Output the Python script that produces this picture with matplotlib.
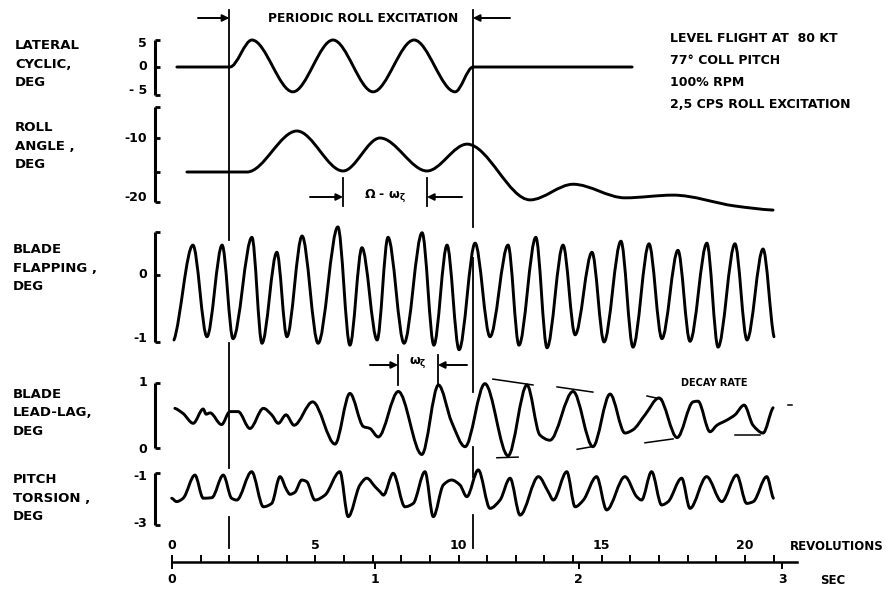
import numpy as np
import matplotlib
matplotlib.use("Agg")
import matplotlib.pyplot as plt
from matplotlib.path import Path
from matplotlib.patches import PathPatch
from matplotlib.ticker import FixedLocator, FuncFormatter

# ---------------- data (x in rotor revolutions) ----------------
REV_PER_SEC = 7.1
EXC_START, EXC_END = 2.0, 10.5

lat_rev = [0.17, 2.02, 2.79, 4.22, 5.62, 7.02, 8.45, 9.88, 10.51, 16.06]
lat_deg = [0.0, 0.0, 5.0, -4.6, 5.0, -4.6, 5.0, -4.6, 0.0, 0.0]

roll_rev = [0.52, 2.62, 4.36, 5.97, 7.26, 8.90, 10.30, 12.50, 14.00, 15.81, 17.49, 19.65, 20.98]
roll_deg = [-15.0, -15.0, -8.97, -14.85, -10.0, -14.85, -10.9, -19.1, -16.8, -18.8, -18.4, -20.0, -20.6]

flap_rev = [0.07, 0.73, 1.22, 1.75, 2.13, 2.79, 3.14, 3.66, 4.01, 4.54,
            5.10, 5.79, 6.21, 6.63, 7.16, 7.54, 8.10, 8.73, 9.14, 9.60,
            10.02, 10.58, 11.10, 11.73, 12.11, 12.70, 13.09, 13.65, 14.07, 14.66,
            15.08, 15.67, 16.09, 16.65, 17.10, 17.66, 18.08, 18.67, 19.06, 19.65,
            20.07, 20.63, 21.01]
flap_deg = [-1.0, 0.46, -0.95, 0.46, -0.98, 0.58, -1.05, 0.35, -0.95, 0.60,
            -1.05, 0.74, -1.08, 0.42, -1.0, 0.58, -1.05, 0.65, -1.08, 0.46,
            -1.15, 0.49, -0.95, 0.46, -1.08, 0.58, -1.12, 0.46, -0.92, 0.35,
            -1.03, 0.52, -1.11, 0.48, -0.98, 0.38, -1.02, 0.49, -1.11, 0.48,
            -1.0, 0.40, -0.95]

lag_rev = [0.10, 0.39, 0.74, 1.09, 1.19, 1.33, 1.73, 2.02, 2.31, 2.72,
           3.19, 3.48, 3.71, 3.98, 4.26, 4.91, 5.69, 6.21, 6.68, 6.91,
           7.20, 7.90, 8.72, 9.30, 9.76, 10.23, 10.92, 11.73, 12.39, 12.84,
           13.19, 14.00, 14.69, 15.29, 15.81, 16.09, 16.51, 17.00, 17.63, 18.19,
           18.36, 18.78, 19.02, 19.37, 19.65, 19.97, 20.28, 20.63, 20.98]
lag_deg = [0.61, 0.53, 0.38, 0.60, 0.52, 0.54, 0.36, 0.56, 0.56, 0.30,
           0.61, 0.51, 0.38, 0.51, 0.35, 0.71, 0.06, 0.84, 0.33, 0.30,
           0.17, 0.87, -0.10, 0.97, 0.40, 0.02, 0.99, -0.12, 0.97, 0.20,
           0.12, 0.87, 0.02, 0.83, 0.23, 0.28, 0.51, 0.77, 0.16, 0.71,
           0.72, 0.25, 0.35, 0.43, 0.51, 0.66, 0.35, 0.23, 0.62]

tors_rev = [-0.01, 0.16, 0.39, 0.80, 1.09, 1.39, 1.79, 2.08, 2.26, 2.78,
            3.19, 3.48, 3.77, 4.00, 4.12, 4.29, 4.53, 4.70, 4.99, 5.34,
            5.86, 6.15, 6.56, 6.80, 7.09, 7.26, 7.38, 7.72, 8.13, 8.42,
            8.83, 9.12, 9.47, 9.76, 10.05, 10.29, 10.69, 11.10, 11.45, 11.80,
            12.15, 12.79, 13.13, 13.31, 13.78, 14.07, 14.36, 14.82, 15.17, 15.81,
            16.22, 16.39, 16.74, 17.09, 17.32, 17.79, 18.08, 18.66, 19.19, 19.71,
            20.06, 20.29, 20.76, 20.99]
tors_deg = [-1.97, -2.10, -1.97, -1.08, -1.97, -1.95, -1.08, -1.97, -2.04, -0.95,
            -2.30, -2.17, -1.14, -1.65, -1.82, -1.74, -1.27, -1.33, -2.04, -1.85,
            -0.95, -2.68, -1.46, -1.20, -1.53, -1.72, -1.85, -1.01, -2.30, -2.17,
            -0.95, -2.68, -1.46, -1.27, -1.46, -1.91, -0.88, -2.36, -2.04, -1.20,
            -2.62, -1.14, -1.72, -2.04, -0.95, -2.30, -2.04, -1.14, -2.42, -1.14,
            -1.91, -2.04, -0.95, -2.23, -2.10, -1.20, -2.36, -1.14, -2.10, -1.08,
            -2.17, -2.10, -1.14, -1.97]

# decay-rate envelope strokes on the lead-lag trace
decay_upper_rev = [[11.20, 12.60], [13.44, 14.69], [16.58, 17.10], [21.50, 21.64]]
decay_upper_val = [[1.06, 0.97], [0.94, 0.86], [0.80, 0.75], [0.66, 0.66]]
decay_lower_rev = [[11.34, 12.08], [14.14, 14.66], [16.51, 17.49], [19.65, 20.52]]
decay_lower_val = [[-0.15, -0.14], [-0.02, 0.02], [0.08, 0.14], [0.20, 0.20]]

rev_ticks = list(range(0, 22))
rev_labels = {0: "0", 5: "5", 10: "10", 15: "15", 20: "20"}
sec_ticks = [0, 1, 2, 3]

# ---------------- layout ----------------
W, H = 889, 589
X0_PX, PX_PER_REV = 172, 28.65
XLIM = (-X0_PX / PX_PER_REV, (W - X0_PX) / PX_PER_REV)
plt.rcParams["font.family"] = "DejaVu Sans"
plt.rcParams["font.weight"] = "bold"

fig = plt.figure(figsize=(W / 100, H / 100), dpi=100)


def fy(y):
    return 1 - y / H


def r_of(xpx):
    return (xpx - X0_PX) / PX_PER_REV


def make_ax(va, ya, vb, yb):
    ax = fig.add_axes([0, 0, 1, 1])
    s = (vb - va) / (yb - ya)
    ax.set_xlim(*XLIM)
    ax.set_ylim(va + (H - ya) * s, va + (0 - ya) * s)
    ax.axis("off")
    ax.patch.set_alpha(0)
    return ax


def smooth_path(x, y):
    x = np.asarray(x, float)
    y = np.asarray(y, float)
    d = np.diff(y) / np.diff(x)
    m = np.zeros(len(x))
    for i in range(1, len(x) - 1):
        if d[i - 1] * d[i] > 0:
            m[i] = 2.0 / (1.0 / d[i - 1] + 1.0 / d[i])
    m[0], m[-1] = d[0] * 0.5, d[-1] * 0.5
    verts = [(x[0], y[0])]
    codes = [Path.MOVETO]
    for i in range(len(x) - 1):
        h = x[i + 1] - x[i]
        verts += [(x[i] + h / 3, y[i] + m[i] * h / 3),
                  (x[i + 1] - h / 3, y[i + 1] - m[i + 1] * h / 3),
                  (x[i + 1], y[i + 1])]
        codes += [Path.CURVE4] * 3
    return Path(verts, codes)


def trace(ax, x, y, lw=2.1):
    ax.add_patch(PathPatch(smooth_path(x, y), fill=False, lw=lw, color="black",
                           capstyle="round", joinstyle="round"))


BR_X = r_of(155)
SERIF = 5 / PX_PER_REV


def bracket(ax, top, bot, ticks=()):
    ax.plot([BR_X, BR_X], [bot, top], color="black", lw=2.2, solid_capstyle="butt")
    for v in (top, bot) + tuple(ticks):
        ax.plot([BR_X, BR_X + SERIF], [v, v], color="black", lw=2.0, solid_capstyle="butt")


LAB_X = r_of(147)


def ylab(ax, v, s):
    ax.text(LAB_X, v, s, ha="right", va="center", fontsize=9, color="black")


# lateral cyclic
ax1 = make_ax(0, 67, 5, 40)
trace(ax1, lat_rev, lat_deg)
bracket(ax1, 5.0, -5.2, (0,))
ylab(ax1, 4.3, "5"); ylab(ax1, 0, "0"); ylab(ax1, -4.3, "- 5")

# roll angle
ax2 = make_ax(-10, 138, -15, 172)
trace(ax2, roll_rev, roll_deg)
bracket(ax2, -5.4, -19.4, (-10, -15))
ylab(ax2, -10, "-10"); ylab(ax2, -18.7, "-20")

# blade flapping
ax3 = make_ax(0, 275, -1, 340)
trace(ax3, flap_rev, flap_deg)
bracket(ax3, 0.66, -1.03, (0,))
ylab(ax3, 0, "0"); ylab(ax3, -0.97, "-1")

# blade lead-lag
ax4 = make_ax(1, 383, 0, 448)
trace(ax4, lag_rev, lag_deg)
bracket(ax4, 1.0, 0.0)
ylab(ax4, 1.0, "1"); ylab(ax4, -0.02, "0")
for xs, vs in zip(decay_upper_rev + decay_lower_rev, decay_upper_val + decay_lower_val):
    ax4.plot(xs, vs, color="black", lw=1.1)
ax4.text(r_of(714), (448 - 383) / 65, "DECAY RATE", ha="center", va="center", fontsize=7)

# pitch torsion
ax5 = make_ax(-1, 473, -3, 525)
trace(ax5, tors_rev, tors_deg)
bracket(ax5, -1.0, -3.0)
ylab(ax5, -1.15, "-1"); ylab(ax5, -2.95, "-3")

# ---------------- overlay annotations (y in pixels) ----------------
ov = fig.add_axes([0, 0, 1, 1])
ov.set_xlim(*XLIM)
ov.set_ylim(H, 0)
ov.axis("off")
ov.patch.set_alpha(0)

for xr, segs in ((EXC_START, [(10, 240), (343, 468), (517, 548)]),
                 (EXC_END, [(10, 227), (258, 392), (447, 477), (515, 548)])):
    for a, b in segs:
        ov.plot([xr, xr], [a, b], color="black", lw=1.3)

arw = dict(arrowstyle="-|>", lw=1.4, color="black", mutation_scale=10, shrinkA=0, shrinkB=0)
ov.annotate("", xy=(EXC_START, 18), xytext=(r_of(198), 18), arrowprops=arw)
ov.annotate("", xy=(EXC_END, 18), xytext=(r_of(510), 18), arrowprops=arw)
ov.text(r_of(363), 18, "PERIODIC ROLL EXCITATION", ha="center", va="center", fontsize=8.8)

# Omega - omega_zeta marker on roll trace
for xr in (5.97, 8.90):
    ov.plot([xr, xr], [178, 206], color="black", lw=1.3)
ov.annotate("", xy=(5.97, 197), xytext=(r_of(310), 197), arrowprops=arw)
ov.annotate("", xy=(8.90, 197), xytext=(r_of(462), 197), arrowprops=arw)
ov.text(r_of(385), 196, r"$\mathbf{\Omega}$ - $\mathbf{\omega_\zeta}$", ha="center", va="center", fontsize=9)

# omega_zeta marker on lead-lag trace
for xr in (7.89, 9.28):
    ov.plot([xr, xr], [355, 385], color="black", lw=1.3)
ov.annotate("", xy=(7.89, 365), xytext=(r_of(370), 365), arrowprops=arw)
ov.annotate("", xy=(9.28, 365), xytext=(r_of(467), 365), arrowprops=arw)
ov.text(r_of(418), 363, r"$\mathbf{\omega_\zeta}$", ha="center", va="center", fontsize=9)

# ---------------- left labels & notes ----------------
labels = [("LATERAL\nCYCLIC,\nDEG", 15, 64),
          ("ROLL\nANGLE ,\nDEG", 15, 146),
          ("BLADE\nFLAPPING ,\nDEG", 13, 268),
          ("BLADE\nLEAD-LAG,\nDEG", 13, 413),
          ("PITCH\nTORSION ,\nDEG", 13, 498)]
for s, x, y in labels:
    fig.text(x / W, fy(y), s, ha="left", va="center", fontsize=9.5, linespacing=1.55)

notes = ["LEVEL FLIGHT AT  80 KT", "77\u00b0 COLL PITCH", "100% RPM", "2,5 CPS ROLL EXCITATION"]
for i, s in enumerate(notes):
    fig.text(670 / W, fy(38 + 22 * i), s, ha="left", va="center", fontsize=9)

# ---------------- bottom scale ----------------
axb = fig.add_axes([0, fy(562), 1, 0.0001])
axb.set_xlim(*XLIM)
axb.patch.set_alpha(0)
for sp in ("left", "right", "bottom"):
    axb.spines[sp].set_visible(False)
axb.spines["top"].set_bounds(0, 21.8)
axb.spines["top"].set_linewidth(1.8)
axb.set_yticks([])
axb.xaxis.set_ticks_position("top")
axb.xaxis.set_label_position("top")
axb.xaxis.set_major_locator(FixedLocator(rev_ticks))
axb.xaxis.set_major_formatter(FuncFormatter(lambda v, p: rev_labels.get(int(round(v)), "")))
axb.tick_params(axis="x", direction="out", length=5, width=1.4, pad=2, labelsize=9)

sec = axb.secondary_xaxis("bottom", functions=(lambda r: r / REV_PER_SEC, lambda s: s * REV_PER_SEC))
sec.set_xticks(sec_ticks)
sec.spines["bottom"].set_visible(False)
sec.tick_params(axis="x", direction="out", length=5, width=1.4, pad=3, labelsize=9)

fig.text(790 / W, fy(547), "REVOLUTIONS", ha="left", va="center", fontsize=8.5)
fig.text(820 / W, fy(581), "SEC", ha="left", va="center", fontsize=8.5)

fig.savefig("out.png", dpi=100)
